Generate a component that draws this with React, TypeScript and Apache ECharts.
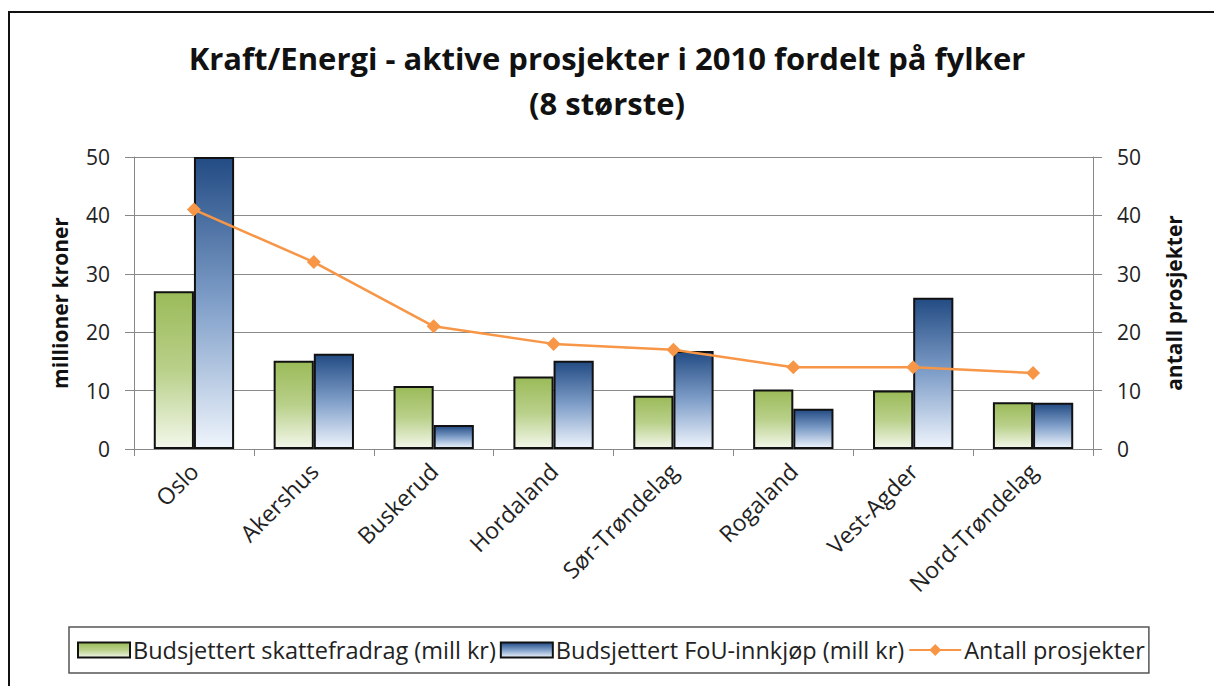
import React, { useEffect, useRef } from "react";
import * as echarts from "echarts";

const categories = ["Oslo", "Akershus", "Buskerud", "Hordaland", "Sør-Trøndelag", "Rogaland", "Vest-Agder", "Nord-Trøndelag"];
const skattefradrag = [27, 15.1, 10.8, 12.4, 9.1, 10.2, 10.0, 8.0];
const fouInnkjop = [50, 16.3, 4.1, 15.1, 16.8, 6.9, 25.9, 7.9];
const antallProsjekter = [41, 32, 21, 18, 17, 14, 14, 13];
const leftTicks = { min: 0, max: 50, interval: 10 };
const rightTicks = { min: 0, max: 50, interval: 10 };

const FONT = "'Open Sans', Lato, sans-serif";

export default function App() {
  const ref = useRef<HTMLDivElement>(null);
  useEffect(() => {
    if (!ref.current) return;
    const chart = echarts.init(ref.current, undefined, { renderer: "svg" });
    const green = new echarts.graphic.LinearGradient(0, 0, 0, 1, [
      { offset: 0, color: "#9BBB59" },
      { offset: 0.5, color: "#B9D08A" },
      { offset: 1, color: "#F3F7EA" },
    ]);
    const blue = new echarts.graphic.LinearGradient(0, 0, 0, 1, [
      { offset: 0, color: "#234C84" },
      { offset: 0.5, color: "#809FC9" },
      { offset: 1, color: "#EEF4FC" },
    ]);
    const axisText = { color: "#222", fontSize: 21, fontFamily: FONT };
    chart.setOption({
      animation: false,
      backgroundColor: "#fff",
      textStyle: { fontFamily: FONT },
      title: {
        text: "Kraft/Energi - aktive prosjekter i 2010 fordelt på fylker\n(8 største)",
        left: "center",
        top: 30,
        textStyle: { fontSize: 31, fontWeight: "bold", color: "#111", lineHeight: 45, fontFamily: FONT },
      },
      grid: { left: 134, right: 121, top: 157, bottom: 237 },
      graphic: [
        {
          type: "rect",
          shape: { x: 9, y: 12, width: 1240, height: 720 },
          style: { fill: "none", stroke: "#111", lineWidth: 2 },
          silent: true,
        },
      ],
      legend: {
        left: 69,
        top: 627,
        padding: [11, 4, 11, 8],
        borderColor: "#555",
        borderWidth: 1.5,
        itemGap: 4,
        itemWidth: 52,
        itemHeight: 15,
        textStyle: { fontSize: 23.5, color: "#222", fontFamily: FONT, padding: [0, 0, 0, -2] },
        data: [
          { name: "Budsjettert skattefradrag (mill kr)", icon: "rect" },
          { name: "Budsjettert FoU-innkjøp (mill kr)", icon: "rect" },
          { name: "Antall prosjekter" },
        ],
      },
      xAxis: {
        type: "category",
        data: categories,
        axisLine: { lineStyle: { color: "#888", width: 1 } },
        axisTick: { show: true, length: 7, interval: 0, lineStyle: { color: "#888" } },
        axisLabel: { ...axisText, fontSize: 23, rotate: 45, interval: 0, margin: 18 },
      },
      yAxis: [
        {
          type: "value",
          ...leftTicks,
          name: "millioner kroner",
          nameLocation: "middle",
          nameRotate: 90,
          nameGap: 64,
          nameTextStyle: { fontSize: 21, fontWeight: "bold", color: "#111", fontFamily: FONT },
          axisLine: { show: true, lineStyle: { color: "#888" } },
          axisTick: { show: true, length: 9, lineStyle: { color: "#888" } },
          axisLabel: { ...axisText, margin: 24 },
          splitLine: { show: true, lineStyle: { color: "#8a8a8a", width: 1 } },
        },
        {
          type: "value",
          ...rightTicks,
          position: "right",
          name: "antall prosjekter",
          nameLocation: "middle",
          nameRotate: 90,
          nameGap: 70,
          nameTextStyle: { fontSize: 21, fontWeight: "bold", color: "#111", fontFamily: FONT },
          axisLine: { show: true, lineStyle: { color: "#888" } },
          axisTick: { show: true, length: 9, lineStyle: { color: "#888" } },
          axisLabel: { ...axisText, margin: 24 },
          splitLine: { show: false },
        },
      ],
      series: [
        {
          name: "Budsjettert skattefradrag (mill kr)",
          type: "bar",
          data: skattefradrag,
          barGap: "0%",
          barCategoryGap: "33%",
          itemStyle: { color: green, borderColor: "#111", borderWidth: 2 },
        },
        {
          name: "Budsjettert FoU-innkjøp (mill kr)",
          type: "bar",
          data: fouInnkjop,
          itemStyle: { color: blue, borderColor: "#111", borderWidth: 2 },
        },
        {
          name: "Antall prosjekter",
          type: "line",
          yAxisIndex: 1,
          data: antallProsjekter,
          symbol: "diamond",
          symbolSize: 14,
          lineStyle: { color: "#F79646", width: 2.5 },
          itemStyle: { color: "#F79646" },
        },
      ],
    });
    return () => chart.dispose();
  }, []);
  return (
    <div style={{ position: "fixed", left: 0, top: 0, width: 1214, height: 686, background: "#fff" }}>
      <div ref={ref} style={{ width: 1214, height: 686 }} />
    </div>
  );
}
